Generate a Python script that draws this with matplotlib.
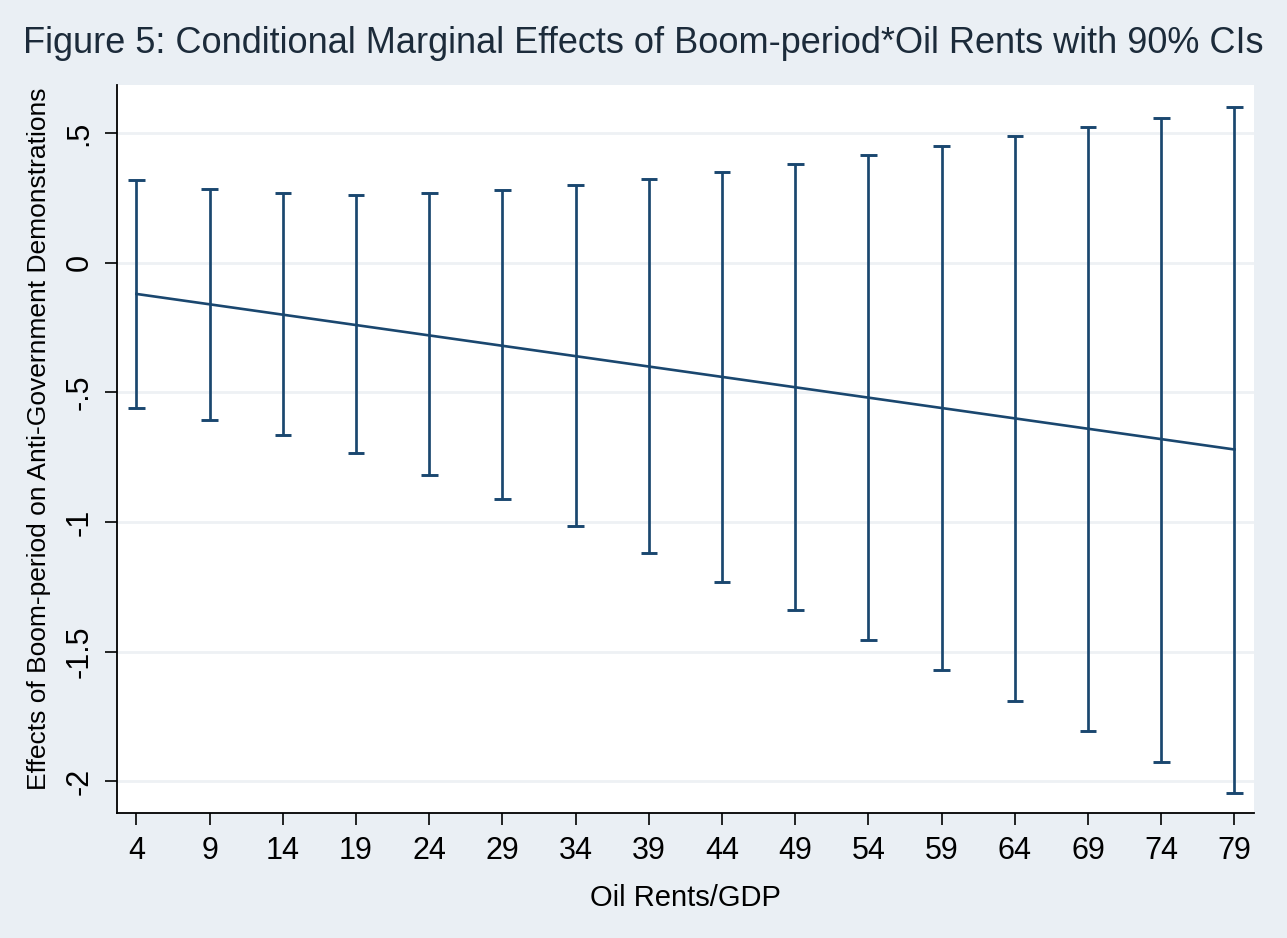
import numpy as np
import matplotlib
matplotlib.use("Agg")
import matplotlib.pyplot as plt

# values
oil_rents = [4, 9, 14, 19, 24, 29, 34, 39, 44, 49, 54, 59, 64, 69, 74, 79]
effect = [-0.12, -0.16, -0.20, -0.24, -0.28, -0.32, -0.36, -0.40,
          -0.44, -0.48, -0.52, -0.56, -0.60, -0.64, -0.68, -0.72]
ci_upper = [0.32, 0.285, 0.27, 0.26, 0.27, 0.28, 0.30, 0.325,
            0.35, 0.38, 0.415, 0.45, 0.49, 0.525, 0.56, 0.60]
ci_lower = [-0.56, -0.605, -0.665, -0.735, -0.82, -0.91, -1.015, -1.12,
            -1.23, -1.34, -1.455, -1.57, -1.69, -1.805, -1.925, -2.045]
y_ticks = [0.5, 0, -0.5, -1, -1.5, -2]
y_ticklabels = [".5", "0", "-.5", "-1", "-1.5", "-2"]

navy = "#1a476f"
bg = "#eaeff4"

plt.rcParams['font.family'] = ['Liberation Sans', 'DejaVu Sans']

fig = plt.figure(figsize=(12.87, 9.38), dpi=100, facecolor=bg)
ax = fig.add_axes([0.0909, 0.1333, 0.8834, 0.7761])
ax.set_facecolor("white")

x = np.array(oil_rents)
lo = np.array(ci_lower)
hi = np.array(ci_upper)
ax.vlines(x, lo, hi, color=navy, lw=1.95, zorder=3)
ax.hlines(lo, x - 0.57, x + 0.57, color=navy, lw=2.1, zorder=3)
ax.hlines(hi, x - 0.57, x + 0.57, color=navy, lw=2.1, zorder=3)
ax.plot(x, effect, color=navy, lw=1.9, zorder=3)

ax.set_xlim(2.67, 80.33)
ax.set_ylim(-2.122, 0.686)
ax.set_xticks(oil_rents)
ax.set_yticks(y_ticks)
ax.set_yticklabels(y_ticklabels, rotation=90, va="center")
ax.grid(axis="y", color="#eef1f4", lw=2)
ax.set_axisbelow(True)

for s in ["top", "right"]:
    ax.spines[s].set_visible(False)
for s in ["left", "bottom"]:
    ax.spines[s].set_linewidth(1.3)
ax.tick_params(axis="both", length=8.6, width=1.2, labelsize=22)
ax.tick_params(axis="x", pad=8)
ax.tick_params(axis="y", pad=7.5)

ax.set_xlabel("Oil Rents/GDP", fontsize=21)
ax.xaxis.set_label_coords(0.5004, -0.0975)
ax.set_ylabel("Effects of Boom-period on Anti-Government Demonstrations",
              fontsize=19)
ax.yaxis.set_label_coords(-0.058, 0.514)
fig.text(0.5, 0.9435,
         "Figure 5: Conditional Marginal Effects of Boom-period*Oil Rents with 90% CIs",
         fontsize=26, color="#1c2b3a", ha="center", va="baseline")

fig.savefig("out.png", dpi=100, facecolor=bg)
